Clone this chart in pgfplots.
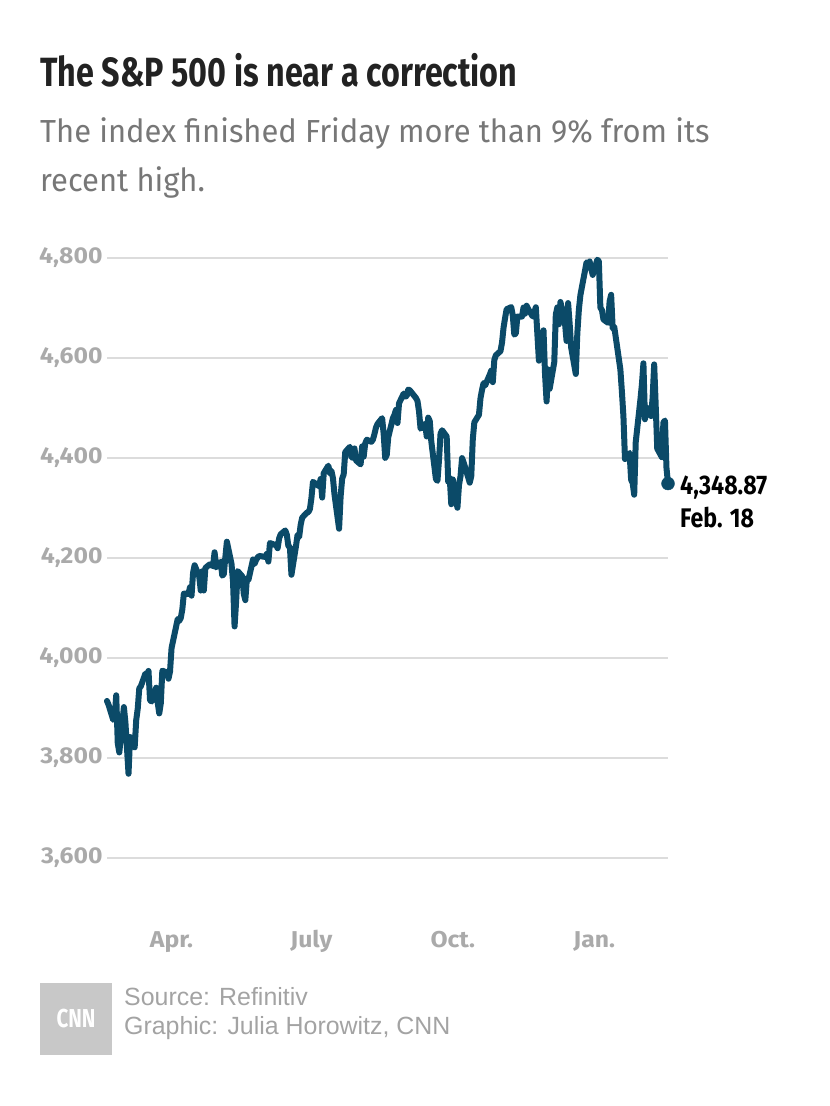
\documentclass[border=0pt]{standalone}
\usepackage{pgfplots}
\pgfplotsset{compat=1.18}
\usepackage{fontspec}
\setmainfont{Fira Sans}
\newfontfamily\titlefont[FakeStretch=0.79]{Fira Sans}
\newfontfamily\subfont[FakeStretch=0.97]{Fira Sans}
\newfontfamily\tickfont[FakeStretch=1.08]{Fira Sans}
\newfontfamily\annfont[FakeStretch=0.86]{Fira Sans}
\newfontfamily\srcfont{Liberation Sans}
\definecolor{linec}{HTML}{0B4A68}
\definecolor{gridc}{HTML}{DCDCDC}
\definecolor{tickc}{HTML}{AAAAAA}
\definecolor{titlec}{HTML}{222222}
\definecolor{subc}{HTML}{777777}
\definecolor{srcc}{HTML}{A3A3A3}
\definecolor{logoc}{HTML}{C8C8C8}
\begin{document}
\begin{tikzpicture}[x=1bp,y=1bp]
\useasboundingbox (0,0) rectangle (830,1106);
\node[anchor=base west, inner sep=0, text=titlec, font=\titlefont\bfseries\fontsize{41}{48}\selectfont] at (40,1019) {The S\&P 500 is near a correction};
\node[anchor=base west, inner sep=0, text=subc, font=\subfont\fontsize{32}{38}\selectfont] at (40,963) {The index finished Friday more than 9\% from its};
\node[anchor=base west, inner sep=0, text=subc, font=\subfont\fontsize{32}{38}\selectfont] at (40,914) {recent high.};
\begin{axis}[
  at={(107bp,198bp)}, anchor=south west,
  scale only axis, width=561bp, height=675bp,
  xmin=49, xmax=414, ymin=3500, ymax=4850,
  axis line style={draw=none},
  tick style={draw=none},
  ytick={3600,3800,4000,4200,4400,4600,4800},
  ymajorgrids, grid style={color=gridc, line width=1.5bp},
  xtick={91,182,274,366},
  xticklabels={Apr.,July,Oct.,Jan.},
  /pgf/number format/assume math mode=true,
  /pgf/number format/1000 sep={,},
  ticklabel style={font=\tickfont\bfseries\fontsize{23}{27}\selectfont, text=tickc},
  yticklabel style={xshift=-1bp},
  xticklabel style={anchor=base, yshift=-40bp},
  clip=false,
]
\addplot[color=linec, line width=6bp, line join=round, line cap=round] table {
x y
49 3913.97
50 3906.71
53 3876.50
54 3881.37
55 3925.43
56 3829.34
57 3811.15
60 3901.82
61 3870.29
62 3819.72
63 3768.47
64 3841.94
67 3821.35
68 3875.44
69 3898.81
70 3939.34
71 3943.34
74 3968.94
75 3962.71
76 3974.12
77 3915.46
78 3913.10
81 3940.59
82 3910.52
83 3889.14
84 3909.52
85 3974.54
88 3971.09
89 3958.55
90 3972.89
91 4019.87
95 4077.91
96 4073.94
97 4079.95
98 4097.17
99 4128.80
102 4127.99
103 4141.59
104 4124.66
105 4170.42
106 4185.47
109 4163.26
110 4134.94
111 4173.42
112 4134.98
113 4180.17
116 4187.62
117 4186.72
118 4183.18
119 4211.47
120 4181.17
123 4192.66
124 4164.66
125 4167.59
126 4201.62
127 4232.60
130 4188.43
131 4152.10
132 4063.04
133 4112.50
134 4173.85
137 4163.29
138 4127.83
139 4115.68
140 4159.12
141 4155.86
144 4197.05
145 4188.13
146 4195.99
147 4200.88
148 4204.11
152 4202.04
153 4208.12
154 4192.85
155 4229.89
158 4226.52
159 4227.26
160 4219.55
161 4239.18
162 4247.44
165 4255.15
166 4246.59
167 4223.70
168 4221.86
169 4166.45
172 4224.79
173 4246.44
174 4241.84
175 4266.49
176 4280.70
179 4290.61
180 4291.80
181 4297.50
182 4319.94
183 4352.34
187 4343.54
188 4358.13
189 4320.82
190 4369.55
193 4384.63
194 4369.21
195 4374.30
196 4360.03
197 4327.16
200 4258.49
201 4323.06
202 4358.69
203 4367.48
204 4411.79
207 4422.30
208 4401.46
209 4400.64
210 4419.15
211 4395.26
214 4387.16
215 4423.15
216 4402.66
217 4429.10
218 4436.52
221 4432.35
222 4436.75
223 4447.70
224 4460.83
225 4468.00
228 4479.71
229 4448.08
230 4400.27
231 4405.80
232 4441.67
235 4479.53
236 4486.23
237 4496.19
238 4470.00
239 4509.37
242 4528.79
243 4522.68
244 4524.09
245 4536.95
246 4535.43
250 4520.03
251 4514.07
252 4493.28
253 4458.58
256 4468.73
257 4443.05
258 4480.70
259 4473.75
260 4432.99
263 4357.73
264 4354.19
265 4395.64
266 4448.98
267 4455.48
270 4443.11
271 4352.63
272 4359.46
273 4307.54
274 4357.04
277 4300.46
278 4345.72
279 4363.55
280 4399.76
281 4391.34
284 4361.19
285 4350.65
286 4363.80
287 4438.26
288 4471.37
291 4486.46
292 4519.63
293 4536.19
294 4549.78
295 4544.90
298 4566.48
299 4574.79
300 4551.68
301 4596.42
302 4605.38
305 4613.67
306 4630.65
307 4660.57
308 4680.06
309 4697.53
312 4701.70
313 4685.25
314 4646.71
315 4649.27
316 4682.85
319 4682.80
320 4700.90
321 4688.67
322 4704.54
323 4697.96
326 4682.94
327 4690.70
328 4701.46
330 4594.62
333 4655.27
334 4567.00
335 4513.04
336 4577.10
337 4538.43
340 4591.67
341 4686.75
342 4701.21
343 4667.45
344 4712.02
347 4668.97
348 4634.09
349 4709.85
350 4668.67
351 4620.64
354 4568.02
355 4649.23
356 4696.56
357 4725.79
361 4791.19
362 4786.35
363 4793.06
364 4778.73
365 4766.18
368 4796.56
369 4793.54
370 4700.58
371 4696.05
372 4677.03
375 4670.29
376 4713.07
377 4726.35
378 4659.03
379 4662.85
383 4577.11
384 4532.76
385 4482.73
386 4397.94
389 4410.13
390 4356.45
391 4349.93
392 4326.51
393 4431.85
396 4515.55
397 4546.54
398 4589.38
399 4477.44
400 4500.53
403 4483.87
404 4521.54
405 4587.18
406 4504.08
407 4418.64
410 4401.67
411 4471.07
412 4475.01
413 4380.26
414 4348.87
};
\addplot[only marks, mark=*, mark size=6.5pt, color=linec] coordinates {(414,4348.87)};
\node[anchor=base west, inner sep=0, xshift=12bp, yshift=-11bp, font=\annfont\bfseries\fontsize{27}{31}\selectfont, text=black] at (axis cs:414,4348.87) {4,348.87};
\node[anchor=base west, inner sep=0, xshift=12bp, yshift=-44bp, font=\annfont\bfseries\fontsize{27}{31}\selectfont, text=black] at (axis cs:414,4348.87) {Feb. 18};
\end{axis}
\fill[logoc] (40,51) rectangle (112,123);
\node[text=white, font=\titlefont\bfseries\fontsize{26}{30}\selectfont] at (76,87) {CNN};
\node[anchor=base west, inner sep=0, text=srcc, font=\srcfont\fontsize{25}{29}\selectfont] at (124,100) {Source: Refinitiv};
\node[anchor=base west, inner sep=0, text=srcc, font=\srcfont\fontsize{25}{29}\selectfont] at (124,71) {Graphic: Julia Horowitz, CNN};
\end{tikzpicture}
\end{document}
